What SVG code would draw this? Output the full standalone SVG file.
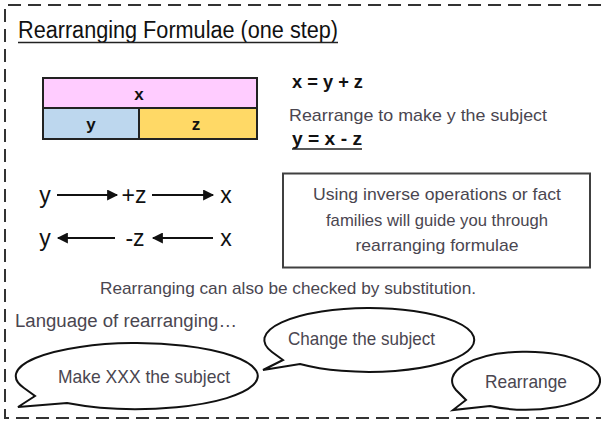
<svg xmlns="http://www.w3.org/2000/svg" width="601" height="426" viewBox="0 0 601 426">
<style>
.t{font-family:"Liberation Sans",Arial,sans-serif;fill:#111}
.g{font-family:"Liberation Sans",Arial,sans-serif;fill:#4a4650}
.b{font-weight:bold}
.dash{stroke:#333;stroke-width:2;stroke-dasharray:13 7;fill:none}
.cell{stroke:#222;stroke-width:2}
.bub{fill:#fff;stroke:#111;stroke-width:2;stroke-linejoin:miter}
.arr{stroke:#111;stroke-width:2;fill:none}
</style>
<defs>
<marker id="ah" viewBox="0 0 10 10" refX="9" refY="5" markerWidth="6" markerHeight="5.5" orient="auto" markerUnits="strokeWidth">
<path d="M0,0 L10,5 L0,10 Z" fill="#111"/>
</marker>
</defs>
<rect width="601" height="426" fill="#fff"/>
<g id="border">
<path class="dash" d="M601,5 H5 V418 H601"/>
</g>
<g id="title">
<text class="t" x="18" y="38" font-size="23" textLength="320" lengthAdjust="spacingAndGlyphs">Rearranging Formulae (one step)</text>
<line x1="18" y1="42.5" x2="338" y2="42.5" stroke="#222" stroke-width="1.5"/>
</g>
<g id="bar-model">
<rect class="cell" x="43" y="78" width="214" height="30" fill="#FFCCFF"/>
<rect class="cell" x="43" y="108" width="96" height="31" fill="#BDD7EE"/>
<rect class="cell" x="139" y="108" width="118" height="31" fill="#FFD966"/>
<text class="t b" x="139" y="100" font-size="17" text-anchor="middle">x</text>
<text class="t b" x="91" y="130" font-size="17" text-anchor="middle">y</text>
<text class="t b" x="196" y="130" font-size="17" text-anchor="middle">z</text>
</g>
<g id="equations">
<text class="t b" x="292" y="88" font-size="18" textLength="71" lengthAdjust="spacingAndGlyphs">x = y + z</text>
<text class="g" x="289" y="121" font-size="17" textLength="258" lengthAdjust="spacingAndGlyphs">Rearrange to make y the subject</text>
<text class="t b" x="292" y="145" font-size="18" textLength="70" lengthAdjust="spacingAndGlyphs">y = x - z</text>
<line x1="292" y1="149" x2="362" y2="149" stroke="#222" stroke-width="1.5"/>
</g>
<g id="labels-row1">
<text class="t" x="45" y="203" font-size="23" text-anchor="middle">y</text>
<text class="t" x="134" y="203" font-size="23" text-anchor="middle">+z</text>
<text class="t" x="226" y="203" font-size="23" text-anchor="middle">x</text>
</g>
<g id="labels-row2">
<text class="t" x="45" y="246" font-size="23" text-anchor="middle">y</text>
<text class="t" x="135" y="246" font-size="23" text-anchor="middle">-z</text>
<text class="t" x="226" y="246" font-size="23" text-anchor="middle">x</text>
</g>
<g id="connectors">
<line class="arr" x1="57" y1="195" x2="117" y2="195" marker-end="url(#ah)"/>
<line class="arr" x1="152" y1="195" x2="213" y2="195" marker-end="url(#ah)"/>
<line class="arr" x1="115" y1="238" x2="58" y2="238" marker-end="url(#ah)"/>
<line class="arr" x1="213" y1="238" x2="153" y2="238" marker-end="url(#ah)"/>
</g>
<g id="info-box">
<rect x="283" y="173.5" width="307" height="94" fill="#fff" stroke="#404040" stroke-width="2"/>
<text class="g" x="437" y="200" font-size="17" text-anchor="middle" textLength="248" lengthAdjust="spacingAndGlyphs">Using inverse operations or fact</text>
<text class="g" x="437" y="226" font-size="17" text-anchor="middle" textLength="222" lengthAdjust="spacingAndGlyphs">families will guide you through</text>
<text class="g" x="437" y="251" font-size="17" text-anchor="middle" textLength="163" lengthAdjust="spacingAndGlyphs">rearranging formulae</text>
</g>
<g id="substitution">
<text class="g" x="100" y="294" font-size="17" textLength="376" lengthAdjust="spacingAndGlyphs">Rearranging can also be checked by substitution.</text>
</g>
<g id="language">
<text class="g" x="15" y="327" font-size="18" textLength="222" lengthAdjust="spacingAndGlyphs">Language of rearranging…</text>
</g>
<g id="bubble-make">
<path class="bub" d="M67,403 A121,33 0 1 0 24,388 L35,396 L18,407 Z"/>
<text class="g" x="58" y="383" font-size="19" textLength="172" lengthAdjust="spacingAndGlyphs">Make XXX the subject</text>
</g>
<g id="bubble-change">
<path class="bub" d="M300,364 A105,32 0 1 0 272,352 L283,360 L263,370 Z"/>
<text class="g" x="288" y="345" font-size="19" textLength="147" lengthAdjust="spacingAndGlyphs">Change the subject</text>
</g>
<g id="bubble-rearrange">
<path class="bub" d="M490,406 A74,29 0 1 0 456,390 L466,400 L453,410 Z"/>
<text class="g" x="485" y="388" font-size="19" textLength="82" lengthAdjust="spacingAndGlyphs">Rearrange</text>
</g>
</svg>
